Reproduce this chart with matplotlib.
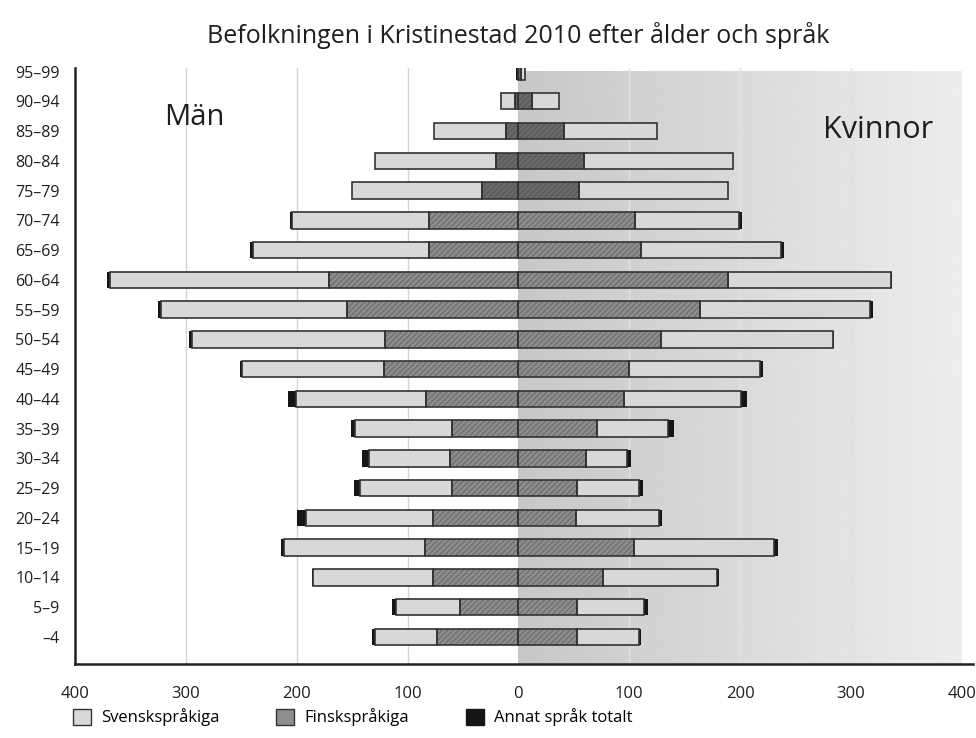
import numpy as np
import matplotlib.pyplot as plt
from matplotlib.patches import Patch

# age groups from youngest to oldest
ages = ['–4', '5–9', '10–14', '15–19', '20–24', '25–29', '30–34', '35–39', '40–44',
        '45–49', '50–54', '55–59', '60–64', '65–69', '70–74', '75–79', '80–84',
        '85–89', '90–94', '95–99']

# men (drawn to the left)
male_fi = [73, 53, 77, 84, 77, 60, 62, 60, 83, 121, 120, 155, 171, 81, 81, 33, 20, 11, 3, 0]
male_sv = [56, 57, 108, 127, 115, 83, 73, 87, 118, 128, 174, 167, 197, 158, 123, 117, 109, 65, 13, 0]
male_ot = [3, 4, 1, 3, 8, 5, 6, 4, 7, 2, 3, 3, 3, 3, 2, 0, 0, 0, 0, 2]

# women (drawn to the right)
fem_fi = [53, 53, 76, 104, 52, 53, 61, 71, 95, 100, 129, 164, 189, 111, 105, 55, 59, 41, 12, 2]
fem_sv = [56, 60, 103, 127, 75, 56, 37, 64, 106, 118, 155, 153, 147, 126, 94, 134, 135, 84, 25, 4]
fem_ot = [2, 4, 2, 3, 3, 3, 4, 5, 5, 3, 1, 3, 1, 3, 3, 0, 0, 0, 0, 0]

legend_labels = ['Svenskspråkiga', 'Finskspråkiga', 'Annat språk totalt']
xticks = [-400, -300, -200, -100, 0, 100, 200, 300, 400]

plt.rcParams['font.family'] = ['Open Sans', 'DejaVu Sans']

SV_COL = '#d8d8d8'
FI_COL = '#8e8e8e'
FI_OLD = '#5e5e5e'
OT_COL = '#151515'
EDGE = '#333333'
TXT = '#1e1e1e'

fig = plt.figure(figsize=(9.76, 7.38), dpi=100)
ax = fig.add_axes([0.0768, 0.1003, 0.920, 0.808])

y = np.arange(len(ages))
mf = np.array(male_fi); ms = np.array(male_sv); mo = np.array(male_ot)
ff = np.array(fem_fi); fs = np.array(fem_sv); fo = np.array(fem_ot)
h = 0.55

ax.set_xlim(-400, 410)
ax.set_ylim(-0.91, 19.13)

# shaded women's half with a soft gradient
grad = np.linspace(0.78, 0.93, 256).reshape(1, -1)
ax.imshow(grad, cmap='gray', vmin=0, vmax=1, aspect='auto',
          extent=[0, 400, -0.91, 19.0], zorder=0)

for gx in [-300, -200, -100, 100, 200, 300]:
    ax.axvline(gx, color='#d4d4d4' if gx < 0 else '#e2e2e2', lw=1.0, zorder=0.5)

fi_colors = [FI_OLD if i >= 15 else FI_COL for i in range(len(ages))]

# finnish, innermost, hatched
ax.barh(y, -mf, height=h, color=fi_colors, edgecolor='#6f6f6f', hatch='//////',
        linewidth=0, zorder=2)
ax.barh(y, ff, height=h, color=fi_colors, edgecolor='#6f6f6f', hatch='//////',
        linewidth=0, zorder=2)
# swedish
ax.barh(y, -ms, left=-mf, height=h, color=SV_COL, linewidth=0, zorder=2)
ax.barh(y, fs, left=ff, height=h, color=SV_COL, linewidth=0, zorder=2)
# other language
ax.barh(y, -mo, left=-(mf + ms), height=h, color=OT_COL, linewidth=0, zorder=2)
ax.barh(y, fo, left=ff + fs, height=h, color=OT_COL, linewidth=0, zorder=2)

# outlines
for left, width in [(0, -mf), (-mf, -ms), (0, ff), (ff, fs)]:
    ax.barh(y, width, left=left, height=h, fill=False, edgecolor=EDGE,
            linewidth=1.2, zorder=3)

ax.set_yticks(y)
ax.set_yticklabels(ages, fontsize=11.5, color=TXT)
ax.set_xticks(xticks)
ax.set_xticklabels([str(abs(t)) for t in xticks], fontsize=12, color=TXT)
ax.tick_params(length=0)
ax.tick_params(axis='x', pad=16)
ax.tick_params(axis='y', pad=11)

for s in ['top', 'right']:
    ax.spines[s].set_visible(False)
for s in ['left', 'bottom']:
    ax.spines[s].set_linewidth(1.8)
    ax.spines[s].set_color('#222222')

ax.text(-320, 17.45, 'Män', fontsize=21, color=TXT, va='center')
ax.text(275, 17.05, 'Kvinnor', fontsize=22, color=TXT, va='center')

fig.text(0.531, 0.952, 'Befolkningen i Kristinestad 2010 efter ålder och språk',
         ha='center', va='center', fontsize=18, color=TXT)

handles = [Patch(facecolor=SV_COL, edgecolor=EDGE),
           Patch(facecolor=FI_COL, edgecolor=EDGE),
           Patch(facecolor=OT_COL, edgecolor=OT_COL)]
fig.legend(handles, legend_labels, loc='center left', bbox_to_anchor=(0.059, 0.028),
           ncol=3, frameon=False, fontsize=12, handlelength=1.1, handleheight=1.1,
           handletextpad=0.6, columnspacing=3.4)

fig.savefig('out.png', dpi=100)
